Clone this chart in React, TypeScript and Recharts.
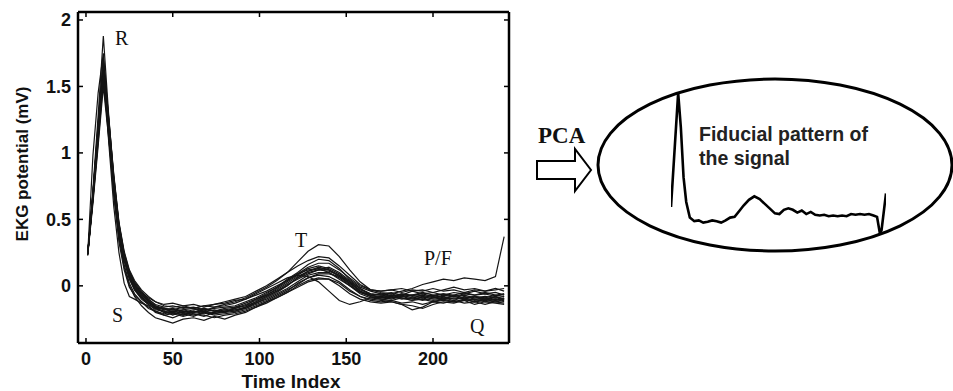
import React from 'react';
import { LineChart, Line, XAxis, YAxis } from 'recharts';

// sample positions shared by every beat
const TIME_INDEX = [
  1, 4, 7, 10, 13, 16, 19, 22, 25, 28, 32, 36, 40, 45, 50, 56, 62, 68, 74, 80, 86, 92, 98, 104, 110,
  116, 122, 128, 134, 140, 146, 152, 158, 164, 170, 176, 182, 188, 194, 200, 206, 212, 218, 224, 230, 236, 241,
];

// aligned heart beats, mV
const BEAT_01 = [
  0.25, 0.72, 1.28, 1.88, 1.3, 0.8, 0.42, 0.2, 0.05, -0.03, -0.09, -0.13, -0.16, -0.17, -0.18,
  -0.16, -0.17, -0.15, -0.16, -0.14, -0.12, -0.09, -0.05, -0.01, 0.04, 0.1, 0.18, 0.26, 0.31, 0.3,
  0.22, 0.12, 0.03, -0.03, -0.05, -0.06, -0.04, -0.02, 0.01, 0.03, 0.05, 0.04, 0.06, 0.05, 0.04, 0.07, 0.37,
];
const BEAT_02 = [
  0.24, 0.98, 1.45, 1.75, 1.2, 0.72, 0.38, 0.16, 0.02, -0.06, -0.12, -0.16, -0.19, -0.21, -0.2,
  -0.22, -0.19, -0.21, -0.2, -0.18, -0.19, -0.16, -0.13, -0.09, -0.05, 0.0, 0.06, 0.11, 0.14, 0.12,
  0.07, 0.01, -0.05, -0.08, -0.09, -0.08, -0.1, -0.09, -0.11, -0.09, -0.08, -0.1, -0.09, -0.11, -0.1, -0.09, -0.1,
];
const BEAT_03 = [
  0.23, 0.68, 1.2, 1.7, 1.25, 0.78, 0.44, 0.22, 0.08, 0.01, -0.06, -0.12, -0.15, -0.18, -0.17,
  -0.19, -0.2, -0.18, -0.19, -0.17, -0.16, -0.15, -0.1, -0.07, -0.02, 0.03, 0.08, 0.13, 0.15, 0.13,
  0.09, 0.03, -0.02, -0.06, -0.07, -0.06, -0.08, -0.07, -0.06, -0.08, -0.06, -0.07, -0.05, -0.07, -0.06, -0.08, -0.06,
];
const BEAT_04 = [
  0.24, 0.7, 1.18, 1.66, 1.1, 0.6, 0.25, 0.02, -0.08, -0.1, -0.13, -0.15, -0.2, -0.22, -0.24,
  -0.21, -0.23, -0.2, -0.22, -0.21, -0.2, -0.18, -0.15, -0.12, -0.08, -0.04, 0.02, 0.06, 0.08, 0.07,
  0.03, -0.03, -0.08, -0.11, -0.12, -0.11, -0.13, -0.12, -0.14, -0.12, -0.13, -0.11, -0.13, -0.12, -0.14, -0.12, -0.13,
];
const BEAT_05 = [
  0.24, 0.67, 1.15, 1.63, 1.22, 0.8, 0.46, 0.24, 0.1, 0.02, -0.05, -0.1, -0.14, -0.16, -0.15,
  -0.17, -0.16, -0.18, -0.17, -0.16, -0.15, -0.12, -0.09, -0.05, -0.01, 0.05, 0.1, 0.16, 0.2, 0.19,
  0.13, 0.05, -0.01, -0.04, -0.06, -0.05, -0.07, -0.04, -0.06, -0.05, -0.07, -0.05, -0.06, -0.04, -0.06, -0.05, -0.07,
];
const BEAT_06 = [
  0.23, 0.66, 1.12, 1.6, 1.15, 0.7, 0.36, 0.14, 0.0, -0.08, -0.15, -0.2, -0.24, -0.26, -0.28,
  -0.25, -0.24, -0.26, -0.23, -0.25, -0.22, -0.2, -0.16, -0.13, -0.09, -0.05, 0.0, 0.04, 0.06, 0.05,
  0.0, -0.06, -0.1, -0.12, -0.13, -0.12, -0.14, -0.15, -0.17, -0.14, -0.12, -0.13, -0.11, -0.14, -0.12, -0.13, -0.14,
];
const BEAT_07 = [
  0.24, 0.65, 1.1, 1.58, 1.18, 0.74, 0.4, 0.19, 0.06, -0.02, -0.08, -0.13, -0.16, -0.18, -0.19,
  -0.18, -0.17, -0.19, -0.16, -0.15, -0.13, -0.1, -0.06, -0.02, 0.02, 0.06, 0.08, 0.07, 0.03, -0.04,
  -0.11, -0.14, -0.12, -0.09, -0.08, -0.09, -0.07, -0.09, -0.08, -0.07, -0.09, -0.08, -0.1, -0.08, -0.09, -0.07, -0.08,
];
const BEAT_08 = [
  0.24, 0.64, 1.08, 1.54, 1.16, 0.76, 0.43, 0.21, 0.07, -0.01, -0.07, -0.11, -0.17, -0.19, -0.21,
  -0.2, -0.22, -0.2, -0.21, -0.19, -0.18, -0.17, -0.13, -0.1, -0.06, -0.02, 0.03, 0.08, 0.1, 0.1,
  0.06, 0.0, -0.06, -0.09, -0.1, -0.09, -0.08, -0.1, -0.09, -0.11, -0.1, -0.09, -0.1, -0.12, -0.1, -0.11, -0.09,
];
const BEAT_09 = [
  0.23, 0.62, 1.05, 1.5, 1.12, 0.74, 0.42, 0.21, 0.08, 0.0, -0.05, -0.09, -0.12, -0.14, -0.13,
  -0.15, -0.14, -0.16, -0.14, -0.12, -0.1, -0.08, -0.04, 0.0, 0.05, 0.1, 0.15, 0.19, 0.22, 0.21,
  0.15, 0.08, 0.01, -0.03, -0.04, -0.03, -0.05, -0.03, -0.04, -0.02, -0.04, -0.03, -0.05, -0.03, -0.04, -0.02, -0.04,
];
const BEAT_10 = [
  0.24, 0.69, 1.19, 1.68, 1.26, 0.82, 0.47, 0.25, 0.11, 0.03, -0.04, -0.1, -0.15, -0.17, -0.18,
  -0.2, -0.18, -0.17, -0.19, -0.18, -0.17, -0.14, -0.11, -0.07, -0.03, 0.02, 0.07, 0.11, 0.13, 0.12,
  0.08, 0.02, -0.03, -0.06, -0.07, -0.08, -0.06, -0.08, -0.07, -0.09, -0.07, -0.08, -0.07, -0.09, -0.08, -0.09, -0.08,
];
const BEAT_11 = [
  0.24, 0.67, 1.14, 1.62, 1.14, 0.68, 0.33, 0.12, -0.01, -0.07, -0.12, -0.17, -0.19, -0.22, -0.21,
  -0.23, -0.21, -0.22, -0.24, -0.22, -0.21, -0.19, -0.16, -0.12, -0.09, -0.05, -0.01, 0.03, 0.05, 0.05,
  0.02, -0.04, -0.08, -0.1, -0.11, -0.12, -0.14, -0.18, -0.16, -0.12, -0.11, -0.12, -0.1, -0.12, -0.11, -0.12, -0.11,
];
const BEAT_12 = [
  0.24, 0.7, 1.22, 1.72, 1.28, 0.84, 0.48, 0.26, 0.12, 0.04, -0.03, -0.08, -0.12, -0.15, -0.16,
  -0.15, -0.17, -0.15, -0.14, -0.13, -0.11, -0.1, -0.07, -0.04, 0.0, 0.04, 0.09, 0.14, 0.17, 0.17,
  0.12, 0.06, 0.0, -0.03, -0.04, -0.03, -0.02, -0.04, -0.03, -0.05, -0.03, -0.01, -0.03, -0.02, -0.04, -0.03, -0.02,
];
const BEAT_13 = [
  0.24, 0.66, 1.12, 1.57, 1.2, 0.79, 0.45, 0.23, 0.09, 0.01, -0.06, -0.11, -0.16, -0.2, -0.19,
  -0.21, -0.19, -0.2, -0.18, -0.2, -0.17, -0.15, -0.12, -0.08, -0.04, 0.01, 0.05, 0.09, 0.12, 0.11,
  0.08, 0.03, -0.04, -0.07, -0.08, -0.1, -0.08, -0.07, -0.09, -0.08, -0.1, -0.07, -0.09, -0.08, -0.1, -0.08, -0.1,
];
const BEAT_14 = [
  0.24, 0.68, 1.16, 1.65, 1.23, 0.8, 0.44, 0.22, 0.07, -0.02, -0.09, -0.14, -0.18, -0.19, -0.22,
  -0.19, -0.21, -0.23, -0.2, -0.19, -0.18, -0.16, -0.12, -0.08, -0.04, 0.0, 0.06, 0.1, 0.12, 0.14,
  0.1, 0.04, -0.02, -0.07, -0.09, -0.07, -0.09, -0.11, -0.08, -0.1, -0.09, -0.11, -0.08, -0.1, -0.09, -0.11, -0.1,
];
const BEAT_15 = [
  0.24, 0.66, 1.13, 1.6, 1.19, 0.77, 0.42, 0.2, 0.06, -0.03, -0.1, -0.14, -0.17, -0.17, -0.2,
  -0.18, -0.2, -0.17, -0.19, -0.2, -0.16, -0.13, -0.1, -0.06, -0.01, 0.04, 0.09, 0.12, 0.13, 0.1,
  0.05, 0.0, -0.05, -0.07, -0.06, -0.08, -0.06, -0.07, -0.05, -0.07, -0.06, -0.08, -0.06, -0.07, -0.05, -0.07, -0.06,
];
const BEAT_16 = [
  0.24, 0.69, 1.21, 1.7, 1.27, 0.83, 0.46, 0.23, 0.09, 0.0, -0.07, -0.12, -0.17, -0.2, -0.2,
  -0.22, -0.2, -0.19, -0.21, -0.2, -0.19, -0.17, -0.14, -0.11, -0.07, -0.03, 0.01, 0.06, 0.09, 0.09,
  0.07, 0.02, -0.04, -0.08, -0.1, -0.11, -0.09, -0.11, -0.1, -0.12, -0.1, -0.12, -0.11, -0.1, -0.12, -0.1, -0.12,
];

const BEATS = [
  BEAT_01, BEAT_02, BEAT_03, BEAT_04, BEAT_05, BEAT_06, BEAT_07, BEAT_08,
  BEAT_09, BEAT_10, BEAT_11, BEAT_12, BEAT_13, BEAT_14, BEAT_15, BEAT_16,
];

const X_TICKS = [0, 50, 100, 150, 200];
const Y_TICKS = [0, 0.5, 1, 1.5, 2];

// principal component pattern shown in the ellipse
const FIDUCIAL_TIME = [
  1, 9, 12, 15, 18, 22, 27, 32, 37, 42, 47, 52, 57, 62, 67, 72, 77, 82, 88, 94, 100, 106, 112, 117, 122,
  127, 132, 137, 142, 147, 152, 157, 162, 167, 172, 177, 182, 187, 192, 197, 202, 207, 212, 217, 222, 227, 231,
  234, 236, 241,
];
const FIDUCIAL_MV = [
  0.08, 1.69, 1.2, 0.5, 0.15, -0.07, -0.12, -0.11, -0.14, -0.13, -0.11, -0.12, -0.14, -0.11, -0.07, -0.06,
  0.02, 0.1, 0.18, 0.23, 0.19, 0.12, 0.05, -0.01, -0.02, 0.04, 0.06, 0.04, 0.0, 0.03, -0.02, 0.01, -0.03,
  -0.04, -0.03, -0.05, -0.04, -0.05, -0.04, -0.05, -0.02, -0.03, -0.02, -0.03, -0.02, -0.04, -0.06, -0.28,
  -0.25, 0.27,
];

const beatRows = TIME_INDEX.map((t, i) => {
  const row: Record<string, number> = { t };
  BEATS.forEach((beat, k) => {
    row[`b${k}`] = beat[i];
  });
  return row;
});

const fiducialRows = FIDUCIAL_TIME.map((t, i) => ({ t, v: FIDUCIAL_MV[i] }));

const SANS = '"Liberation Sans", Arial, Helvetica, sans-serif';
const SERIF = '"Liberation Serif", "Times New Roman", serif';
const FRAME = { stroke: '#000', strokeWidth: 2.5 };

// MATLAB-style ticks pointing into the box
const BottomTick = ({ x, y, payload }: any) => (
  <g>
    <line x1={x} x2={x} y1={y} y2={y - 5} stroke="#000" strokeWidth={1.5} />
    <text x={x} y={y + 22} textAnchor="middle" fontSize={18} fontFamily={SANS} fontWeight={700} fill="#111">
      {payload.value}
    </text>
  </g>
);
const TopTick = ({ x, y }: any) => <line x1={x} x2={x} y1={y} y2={y + 5} stroke="#000" strokeWidth={1.5} />;
const LeftTick = ({ x, y, payload }: any) => (
  <g>
    <line x1={x} x2={x + 5} y1={y} y2={y} stroke="#000" strokeWidth={1.5} />
    <text x={x - 7} y={y + 6.5} textAnchor="end" fontSize={18} fontFamily={SANS} fontWeight={700} fill="#111">
      {String(payload.value)}
    </text>
  </g>
);
const RightTick = ({ x, y }: any) => <line x1={x} x2={x - 5} y1={y} y2={y} stroke="#000" strokeWidth={1.5} />;

const Decorations = () => (
  <svg width={953} height={391} style={{ position: 'absolute', left: 0, top: 0 }}>
    <text
      transform="translate(28,164) rotate(-90)"
      textAnchor="middle"
      fontSize={17}
      fontFamily={SANS}
      fontWeight={700}
      fill="#111"
    >
      EKG potential (mV)
    </text>
    <text x={291} y={388} textAnchor="middle" fontSize={19} fontFamily={SANS} fontWeight={700} fill="#111">
      Time Index
    </text>
    <g fontFamily={SERIF} fontSize={20} fill="#111">
      <text x={115} y={45}>R</text>
      <text x={112} y={322}>S</text>
      <text x={295} y={247}>T</text>
      <text x={424} y={265}>P/F</text>
      <text x={470} y={333}>Q</text>
    </g>
    <text x={538} y={143} fontFamily={SERIF} fontWeight={700} fontSize={23} fill="#111">
      PCA
    </text>
    <polygon
      points="537,161 575,161 575,149 591,170 575,191 575,179 537,179"
      fill="#fff"
      stroke="#000"
      strokeWidth={2}
    />
    <ellipse cx={775} cy={165} rx={177} ry={86} fill="none" stroke="#000" strokeWidth={3} />
    <g fontFamily={SANS} fontWeight={700} fontSize={19.5} fill="#222">
      <text x={699} y={141}>Fiducial pattern of</text>
      <text x={699} y={165}>the signal</text>
    </g>
  </svg>
);

export default function App() {
  return (
    <div style={{ position: 'absolute', left: 0, top: 0, width: 953, height: 391, background: '#fff', overflow: 'hidden' }}>
      <Decorations />
      <div style={{ position: 'absolute', left: 0, top: 0 }}>
        <LineChart width={520} height={391} data={beatRows} margin={{ top: 11, right: 10, bottom: 0, left: 0 }}>
          <XAxis
            xAxisId="bottom"
            dataKey="t"
            type="number"
            domain={[-4.6, 243.8]}
            allowDataOverflow
            ticks={X_TICKS}
            height={48}
            tickSize={0}
            tickMargin={0}
            tickLine={false}
            axisLine={FRAME}
            tick={<BottomTick />}
          />
          <XAxis
            xAxisId="top"
            orientation="top"
            dataKey="t"
            type="number"
            domain={[-4.6, 243.8]}
            allowDataOverflow
            ticks={X_TICKS}
            height={1}
            tickSize={0}
            tickMargin={0}
            tickLine={false}
            axisLine={FRAME}
            tick={<TopTick />}
          />
          <YAxis
            yAxisId="left"
            type="number"
            domain={[-0.43, 2.06]}
            allowDataOverflow
            ticks={Y_TICKS}
            width={78}
            tickSize={0}
            tickMargin={0}
            tickLine={false}
            axisLine={FRAME}
            tick={<LeftTick />}
          />
          <YAxis
            yAxisId="right"
            orientation="right"
            type="number"
            domain={[-0.43, 2.06]}
            allowDataOverflow
            ticks={Y_TICKS}
            width={1}
            tickSize={0}
            tickMargin={0}
            tickLine={false}
            axisLine={FRAME}
            tick={<RightTick />}
          />
          {BEATS.map((_, k) => (
            <Line
              key={k}
              xAxisId="bottom"
              yAxisId="left"
              dataKey={`b${k}`}
              type="linear"
              stroke="#151515"
              strokeWidth={1.2}
              dot={false}
              isAnimationActive={false}
            />
          ))}
        </LineChart>
      </div>
      <div style={{ position: 'absolute', left: 671, top: 85 }}>
        <LineChart width={215} height={156} data={fiducialRows} margin={{ top: 0, right: 0, bottom: 0, left: 0 }}>
          <XAxis dataKey="t" type="number" domain={[1, 241]} hide />
          <YAxis type="number" domain={[-0.4, 1.8]} hide width={0} />
          <Line
            dataKey="v"
            type="linear"
            stroke="#000"
            strokeWidth={2.6}
            dot={false}
            isAnimationActive={false}
          />
        </LineChart>
      </div>
    </div>
  );
}
